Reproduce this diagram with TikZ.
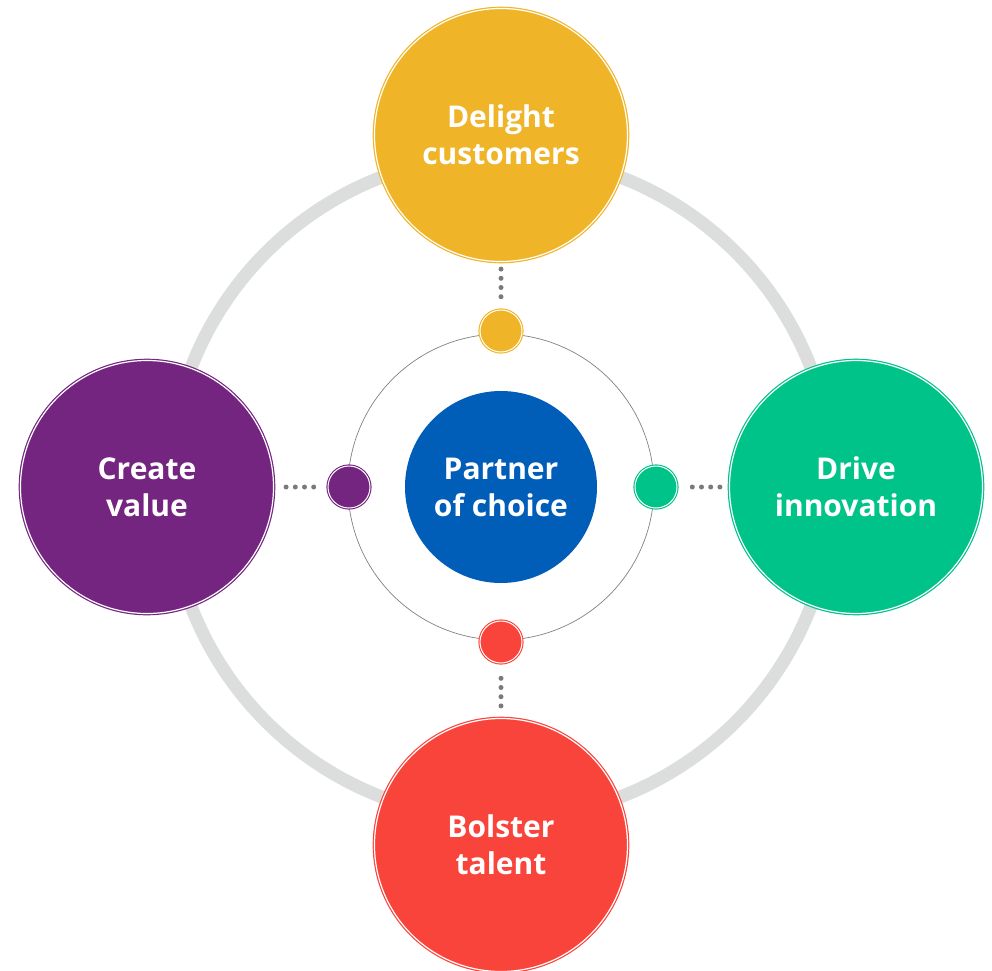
\documentclass[tikz,border=0pt]{standalone}
\usepackage{fontspec}
\setmainfont{Open Sans}
\usepackage{tikz}
\usetikzlibrary{positioning,calc}
\definecolor{goldC}{HTML}{F0B428}
\definecolor{plumC}{HTML}{74257F}
\definecolor{jadeC}{HTML}{00C389}
\definecolor{coralC}{HTML}{F9443C}
\definecolor{navyC}{HTML}{005EB8}
\definecolor{ringC}{HTML}{DCDDDD}
\definecolor{dotC}{HTML}{7A7A7A}
\tikzstyle{goal}=[circle,fill=#1,draw=#1,double=white,double distance=1.2pt,line width=1.2pt,minimum size=253pt,inner sep=0pt,text=white,align=center,font=\fontsize{30}{37}\selectfont\bfseries]
\tikzstyle{hook}=[circle,fill=#1,draw=#1,double=white,double distance=1pt,line width=1.1pt,minimum size=42pt,inner sep=0pt]
\tikzstyle{hub}=[circle,fill=navyC,minimum size=192pt,inner sep=0pt,text=white,align=center,font=\fontsize{30}{37}\selectfont\bfseries]
\tikzstyle{link}=[draw=dotC,line width=5pt,line cap=round,dash pattern=on 0pt off 9.2pt]

\begin{document}
\begin{tikzpicture}[x=1pt,y=1pt]
  \useasboundingbox (-501,-483) rectangle (491,487);
  % rings behind everything
  \draw[ringC,line width=13pt] (0,0) circle (332);
  \draw[black!50,line width=0.7pt] (0,0) circle (153);

  \node[hub] (partner) at (0,0) {Partner\\of choice};

  \node[goal=goldC]  (delight) at (0,352)  {Delight\\customers};
  \node[goal=plumC]  (create)  at (-354,0) {Create\\value};
  \node[goal=jadeC]  (drive)   at (355,0)  {Drive\\innovation};
  \node[goal=coralC] (bolster) at (0,-358) {Bolster\\talent};

  \node[hook=goldC]  (hookD) at (0,156)  {};
  \node[hook=plumC]  (hookC) at (-152,0) {};
  \node[hook=jadeC]  (hookI) at (155,0)  {};
  \node[hook=coralC] (hookB) at (0,-155) {};

  \path[link,shorten <=7pt,shorten >=11pt] (delight) -- (hookD);
  \path[link,shorten <=12pt,shorten >=12pt] (create) -- (hookC);
  \path[link,shorten <=9pt,shorten >=13pt] (drive) -- (hookI);
  \path[link,shorten <=12pt,shorten >=13pt] (bolster) -- (hookB);
\end{tikzpicture}
\end{document}
